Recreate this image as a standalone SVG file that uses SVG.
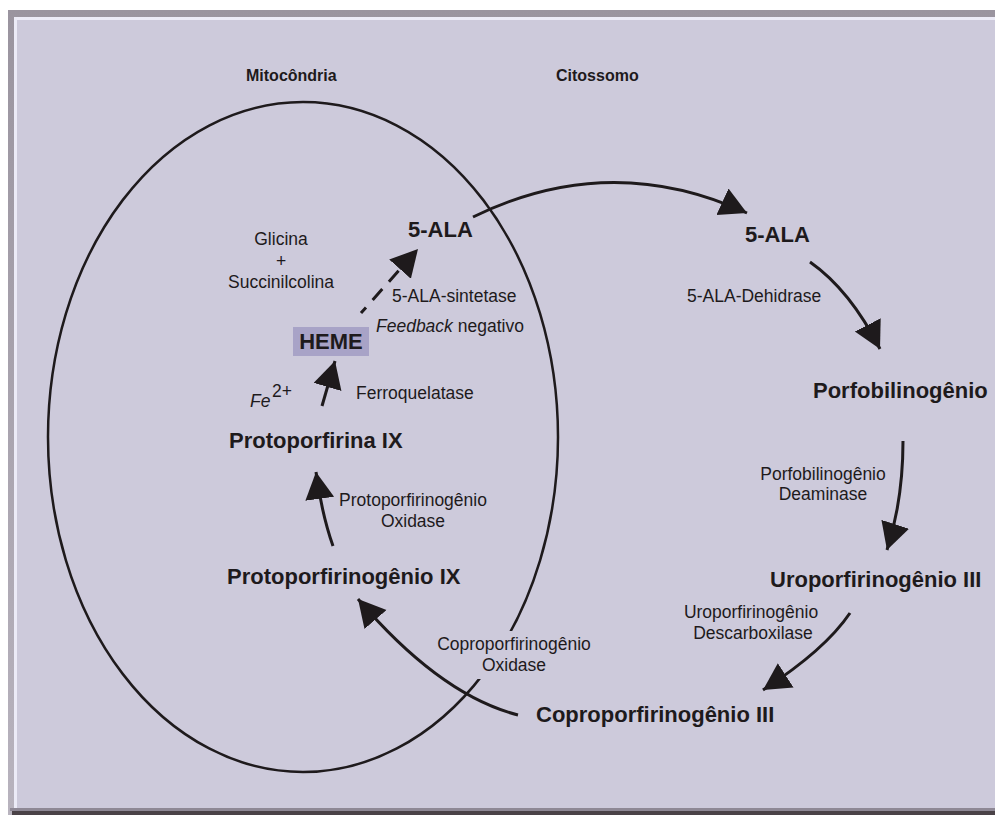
<svg xmlns="http://www.w3.org/2000/svg" width="995" height="815" viewBox="0 0 995 815">
<style>
  text { font-family: "Liberation Sans", Arial, sans-serif; fill: #1e1a1c; }
  .b { font-weight: bold; font-size: 22px; }
  .t { font-weight: bold; font-size: 16px; }
  .r { font-size: 17.5px; }
  .m { text-anchor: middle; }
  .ln { fill: none; stroke: #1e1a1c; stroke-width: 3; }
  .arr { marker-end: url(#ah); }
</style>
<defs>
  <marker id="ah" markerUnits="userSpaceOnUse" markerWidth="30" markerHeight="30" viewBox="0 0 30 30" refX="27" refY="14.5" orient="auto">
    <path d="M0,0 L27,14.5 L0,29 z" fill="#1e1a1c"/>
  </marker>
  <linearGradient id="topband" x1="0" y1="0" x2="0" y2="1">
    <stop offset="0" stop-color="#9a949f"/>
    <stop offset="1" stop-color="#b8b3be"/>
  </linearGradient>
</defs>

<!-- frame -->
<rect x="0" y="0" width="995" height="815" fill="#ffffff"/>
<rect x="8" y="10" width="987" height="805" fill="url(#topband)"/>
<rect x="14" y="17" width="981" height="791" fill="#ecebf7"/>
<rect x="17" y="20" width="978" height="788" fill="#cdcadb"/>
<rect x="10" y="808" width="985" height="3" fill="#8e8895"/>
<rect x="12" y="811" width="983" height="4" fill="#4a4247"/>

<!-- compartments -->
<g id="mitocondria">
  <ellipse cx="303" cy="437" rx="255" ry="335" fill="none" stroke="#1e1a1c" stroke-width="2.5"/>
  <text class="t" x="246" y="81">Mitocôndria</text>
</g>
<g id="citossomo">
  <text class="t" x="556" y="81">Citossomo</text>
</g>

<!-- connectors -->
<g id="connectors">
  <path class="ln arr" d="M473,217 Q610,150 747,213"/>
  <path class="ln arr" d="M810,262 Q850,290 880,349"/>
  <path class="ln arr" d="M903,441 Q903,500 887,550"/>
  <path class="ln arr" d="M850,613 Q825,650 763,690"/>
  <path class="ln arr" d="M518,715 Q440,695 358,599"/>
  <path class="ln arr" d="M333,546 Q322,515 316,472"/>
  <path class="ln arr" d="M322,406 L335,361"/>
  <path class="ln arr" d="M361,313 L418,249" stroke-dasharray="14.5 10" stroke-dashoffset="7"/>
</g>

<!-- nodes -->
<g id="glicina">
  <text class="r m" x="281" y="245">Glicina</text>
  <text class="r m" x="281" y="267">+</text>
  <text class="r m" x="281" y="288">Succinilcolina</text>
</g>
<g id="ala-mito">
  <text class="b" x="408" y="237">5-ALA</text>
</g>
<g id="ala-sintetase">
  <text class="r" x="392" y="302">5-ALA-sintetase</text>
  <text class="r" x="376" y="332"><tspan font-style="italic">Feedback</tspan> negativo</text>
</g>
<g id="heme">
  <rect x="293" y="327" width="76" height="29" fill="#a8a3c7"/>
  <text class="b m" x="331" y="349">HEME</text>
</g>
<g id="fe">
  <text class="r" x="250" y="407" font-style="italic">Fe</text>
  <text class="r" x="272" y="397">2+</text>
</g>
<g id="ferroquelatase">
  <text class="r" x="356" y="399">Ferroquelatase</text>
</g>
<g id="protoporfirina">
  <text class="b" x="229" y="448">Protoporfirina IX</text>
</g>
<g id="protoporfirinogenio-oxidase">
  <text class="r m" x="413" y="506">Protoporfirinogênio</text>
  <text class="r m" x="413" y="527">Oxidase</text>
</g>
<g id="protoporfirinogenio">
  <text class="b" x="227" y="584">Protoporfirinogênio IX</text>
</g>
<g id="coproporfirinogenio-oxidase">
  <rect x="466" y="631" width="96" height="48" fill="#cdcadb"/>
  <text class="r m" x="514" y="650">Coproporfirinogênio</text>
  <text class="r m" x="514" y="671">Oxidase</text>
</g>
<g id="coproporfirinogenio">
  <text class="b" x="536" y="722">Coproporfirinogênio III</text>
</g>
<g id="ala-cito">
  <text class="b" x="745" y="242">5-ALA</text>
</g>
<g id="ala-dehidrase">
  <text class="r" x="687" y="302">5-ALA-Dehidrase</text>
</g>
<g id="porfobilinogenio">
  <text class="b" x="813" y="398">Porfobilinogênio</text>
</g>
<g id="deaminase">
  <text class="r m" x="823" y="480">Porfobilinogênio</text>
  <text class="r m" x="823" y="500">Deaminase</text>
</g>
<g id="uroporfirinogenio">
  <text class="b" x="770" y="587">Uroporfirinogênio III</text>
</g>
<g id="descarboxilase">
  <text class="r m" x="751" y="618">Uroporfirinogênio</text>
  <text class="r m" x="753" y="639">Descarboxilase</text>
</g>
</svg>
